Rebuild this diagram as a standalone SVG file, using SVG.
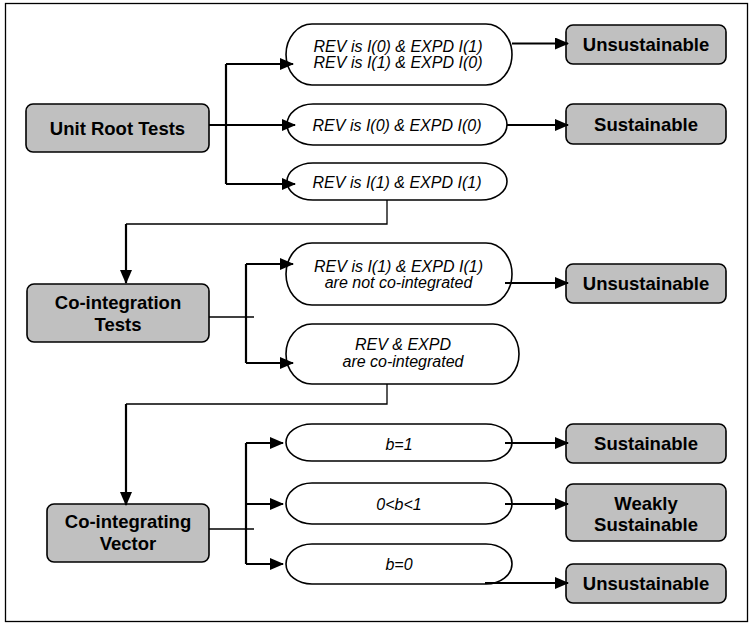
<svg xmlns="http://www.w3.org/2000/svg" width="749" height="624" viewBox="0 0 749 624">
<style>
.box{fill:#c0c0c0;stroke:#000;stroke-width:1.6}
.ell{fill:#fff;stroke:#000;stroke-width:1.6}
.bt{font-family:"Liberation Sans",Arial,sans-serif;font-weight:bold;font-size:18.5px;text-anchor:middle;fill:#000}
.it{font-family:"Liberation Sans",Arial,sans-serif;font-style:italic;font-size:16px;text-anchor:middle;fill:#000}
.ar{fill:none;stroke:#000;stroke-width:2.2;marker-end:url(#ah)}
.ln{fill:none;stroke:#000;stroke-width:2.2}
.th{fill:none;stroke:#000;stroke-width:1.3}
</style>
<defs>
<marker id="ah" markerUnits="userSpaceOnUse" markerWidth="14" markerHeight="12" refX="13" refY="6" orient="auto">
<path d="M0,0 L14,6 L0,12 z" fill="#000"/>
</marker>
</defs>
<rect x="5.5" y="3.5" width="742" height="618" fill="#fff" stroke="#000" stroke-width="1.3"/>

<g id="unit-root"><rect class="box" x="26" y="104" width="183" height="48" rx="7"/><text class="bt" x="117.5" y="134.5">Unit Root Tests</text></g>
<g id="e1"><path class="ell" d="M312,24 H486 A26,30.5 0 0 1 486,85 H312 A26,30.5 0 0 1 312,24 Z"/><text class="it" x="398" y="52">REV is I(0) &amp; EXPD I(1)</text><text class="it" x="398" y="68">REV is I(1) &amp; EXPD I(0)</text></g>
<g id="e2"><path class="ell" d="M313,104 H481 A26,20.5 0 0 1 481,145 H313 A26,20.5 0 0 1 313,104 Z"/><text class="it" x="397" y="130.5">REV is I(0) &amp; EXPD I(0)</text></g>
<g id="e3"><path class="ell" d="M313,163 H481 A26,18.5 0 0 1 481,200 H313 A26,18.5 0 0 1 313,163 Z"/><text class="it" x="397" y="187.5">REV is I(1) &amp; EXPD I(1)</text></g>
<g id="u1"><rect class="box" x="566" y="25" width="160" height="39" rx="7"/><text class="bt" x="646" y="51">Unsustainable</text></g>
<g id="s1"><rect class="box" x="566" y="104" width="160" height="40" rx="7"/><text class="bt" x="646" y="130.5">Sustainable</text></g>

<g id="coint"><rect class="box" x="27" y="284" width="182" height="58" rx="7"/><text class="bt" x="118" y="309">Co-integration</text><text class="bt" x="118" y="331">Tests</text></g>
<g id="e4"><path class="ell" d="M312,243 H486 A26,31 0 0 1 486,305 H312 A26,31 0 0 1 312,243 Z"/><text class="it" x="398.5" y="272">REV is I(1) &amp; EXPD I(1)</text><text class="it" x="398.5" y="288">are not co-integrated</text></g>
<g id="e5"><path class="ell" d="M312,324 H493 A26,30 0 0 1 493,384 H312 A26,30 0 0 1 312,324 Z"/><text class="it" x="403" y="350">REV &amp; EXPD</text><text class="it" x="403" y="367">are co-integrated</text></g>
<g id="u2"><rect class="box" x="566" y="264" width="160" height="39" rx="7"/><text class="bt" x="646" y="290">Unsustainable</text></g>

<g id="civ"><rect class="box" x="47" y="504" width="162" height="58" rx="7"/><text class="bt" x="128" y="528">Co-integrating</text><text class="bt" x="128" y="550">Vector</text></g>
<g id="e6"><path class="ell" d="M312,424 H486 A26,18.5 0 0 1 486,461 H312 A26,18.5 0 0 1 312,424 Z"/><text class="it" x="399" y="450">b=1</text></g>
<g id="e7"><path class="ell" d="M312,483 H486 A26,20.5 0 0 1 486,524 H312 A26,20.5 0 0 1 312,483 Z"/><text class="it" x="399" y="510">0&lt;b&lt;1</text></g>
<g id="e8"><path class="ell" d="M312,544 H486 A26,20 0 0 1 486,584 H312 A26,20 0 0 1 312,544 Z"/><text class="it" x="399" y="570">b=0</text></g>
<g id="s2"><rect class="box" x="566" y="424" width="160" height="39" rx="7"/><text class="bt" x="646" y="450">Sustainable</text></g>
<g id="ws"><rect class="box" x="566" y="484" width="160" height="57" rx="7"/><text class="bt" x="646" y="510">Weakly</text><text class="bt" x="646" y="531">Sustainable</text></g>
<g id="u3"><rect class="box" x="566" y="564" width="160" height="39" rx="7"/><text class="bt" x="646" y="590">Unsustainable</text></g>

<g id="connectors">
<path class="ar" d="M209,125 H295"/>
<path class="ln" d="M226,64 V184"/>
<path class="ar" d="M226,64 H293"/>
<path class="ar" d="M226,184 H295"/>
<path class="ar" d="M512,43.5 H568"/>
<path class="ar" d="M507,125 H568"/>
<path class="th" d="M387,200 V224 H126"/>
<path class="ar" d="M126,224 V283"/>
<path class="th" d="M209,317 H254"/>
<path class="ln" d="M246,264 V363"/>
<path class="ar" d="M246,264 H293"/>
<path class="ar" d="M246,363 H293"/>
<path class="ar" d="M505,283 H568"/>
<path class="th" d="M387,384 V404 H126"/>
<path class="ar" d="M126,404 V505"/>
<path class="th" d="M209,529 H254"/>
<path class="ln" d="M246,443 V564"/>
<path class="ar" d="M246,443 H283"/>
<path class="ar" d="M246,504 H283"/>
<path class="ar" d="M246,564 H283"/>
<path class="ar" d="M505,443 H568"/>
<path class="ar" d="M505,504 H568"/>
<path class="ar" d="M485,583 H568"/>
</g>
</svg>
